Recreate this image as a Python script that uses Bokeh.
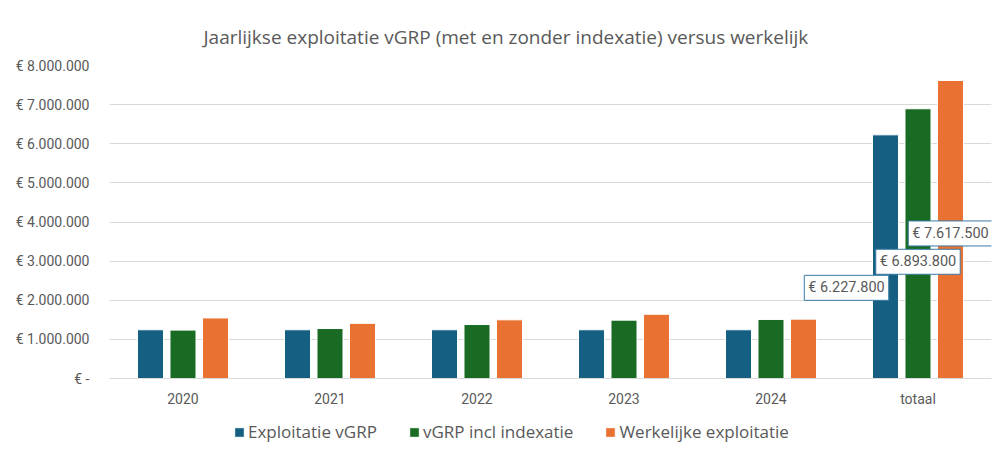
from bokeh.plotting import figure
from bokeh.layouts import column
from bokeh.models import ColumnDataSource, FixedTicker, CustomJSTickFormatter, Legend, LegendItem
from bokeh.transform import dodge
from bokeh.core.properties import value
from bokeh.embed import file_html
from bokeh.resources import INLINE

categories = ["2020", "2021", "2022", "2023", "2024", "totaal"]
exploitatie_vgrp = [1245560, 1245560, 1245560, 1245560, 1245560, 6227800]
vgrp_incl_indexatie = [1237000, 1277000, 1379000, 1492000, 1508800, 6893800]
werkelijke_exploitatie = [1548000, 1410000, 1500000, 1642000, 1517500, 7617500]
series_names = ["Exploitatie vGRP", "vGRP incl indexatie", "Werkelijke exploitatie"]
y_ticks = [0, 1000000, 2000000, 3000000, 4000000, 5000000, 6000000, 7000000, 8000000]

colors = ["#156082", "#196B24", "#E97132"]
FONT = "Roboto"
TFONT = "Open Sans"
GRAY = "#595959"

src = ColumnDataSource(dict(cat=categories, a=exploitatie_vgrp, b=vgrp_incl_indexatie, c=werkelijke_exploitatie))

p = figure(x_range=categories, y_range=(0, 8000000), width=997, height=416,
           output_backend="svg", toolbar_location=None,
           min_border_left=109, min_border_right=6, min_border_top=65, min_border_bottom=38,
           border_fill_color="white")

p.title.text = "Jaarlijkse exploitatie vGRP (met en zonder indexatie) versus werkelijk"
p.title.align = "left"
p.title.text_font = TFONT
p.title.text_font_style = "normal"
p.title.text_font_size = "19px"
p.title.text_color = GRAY
p.title.standoff = 31
p.title.offset = 94

offsets = [-0.221, 0.0, 0.221]
fields = ["a", "b", "c"]
renderers = []
for f, off, col in zip(fields, offsets, colors):
    r = p.vbar(x=dodge("cat", off, range=p.x_range), top=f, width=0.177, source=src,
               fill_color=col, line_color="white", line_width=1)
    renderers.append(r)

# data labels on the totals
tot_idx = categories.index("totaal")
lab_x_off = [-39, 0, 0]
for f, off, series, xo in zip(fields, offsets, [exploitatie_vgrp, vgrp_incl_indexatie, werkelijke_exploitatie], lab_x_off):
    v = series[tot_idx]
    txt = "€ " + f"{v:,.0f}".replace(",", ".")
    ls = ColumnDataSource(dict(cat=[categories[tot_idx]], y=[v], t=[txt]))
    p.text(x=dodge("cat", off, range=p.x_range), y="y", text="t", source=ls,
           x_offset=xo, y_offset=153, text_align="center", text_baseline="middle",
           text_font=value(FONT), text_font_size="14.5px", text_color=GRAY,
           background_fill_color="white", border_line_color="#3A7CA5", border_line_width=1,
           padding=4)

p.yaxis.ticker = FixedTicker(ticks=y_ticks)
p.yaxis.formatter = CustomJSTickFormatter(code="""
if (tick == 0) { return "€ -"; }
return "€ " + Math.round(tick).toString().replace(/\\B(?=(\\d{3})+(?!\\d))/g, ".");
""")
p.yaxis.axis_line_color = None
p.yaxis.major_tick_line_color = None
p.yaxis.minor_tick_line_color = None
p.yaxis.major_label_standoff = 14
p.yaxis.major_label_text_font = FONT
p.yaxis.major_label_text_font_size = "14px"
p.yaxis.major_label_text_color = GRAY

p.xaxis.axis_line_color = "#d9d9d9"
p.xaxis.major_tick_line_color = None
p.xaxis.minor_tick_line_color = None
p.xaxis.major_label_standoff = 6
p.xaxis.major_label_text_font = FONT
p.xaxis.major_label_text_font_size = "14px"
p.xaxis.major_label_text_color = GRAY

p.xgrid.grid_line_color = None
p.ygrid.grid_line_color = "#d9d9d9"
p.outline_line_color = None

# legend strip below the chart (its renderers sit outside the visible range)
lf = figure(width=997, height=38, output_backend="svg", toolbar_location=None,
            min_border=0, x_range=(0, 1), y_range=(0, 1), border_fill_color="white")
lf.axis.visible = False
lf.grid.visible = False
lf.outline_line_color = None
lrs = []
for col in colors:
    lrs.append(lf.vbar(x=[-10], top=[-10], bottom=[-11], width=0.1,
                       fill_color=col, line_color="white", line_width=1))
legend = Legend(items=[LegendItem(label=n, renderers=[r]) for n, r in zip(series_names, lrs)],
                orientation="horizontal", location=(124, 11),
                glyph_width=12, glyph_height=12, label_text_font=TFONT,
                label_text_font_size="17px", label_text_color=GRAY,
                border_line_color=None, background_fill_alpha=0,
                spacing=31, label_standoff=3, padding=0, margin=0)
lf.add_layout(legend)

layout = column(p, lf, spacing=0)
open("out.html", "w").write(file_html(layout, INLINE))
